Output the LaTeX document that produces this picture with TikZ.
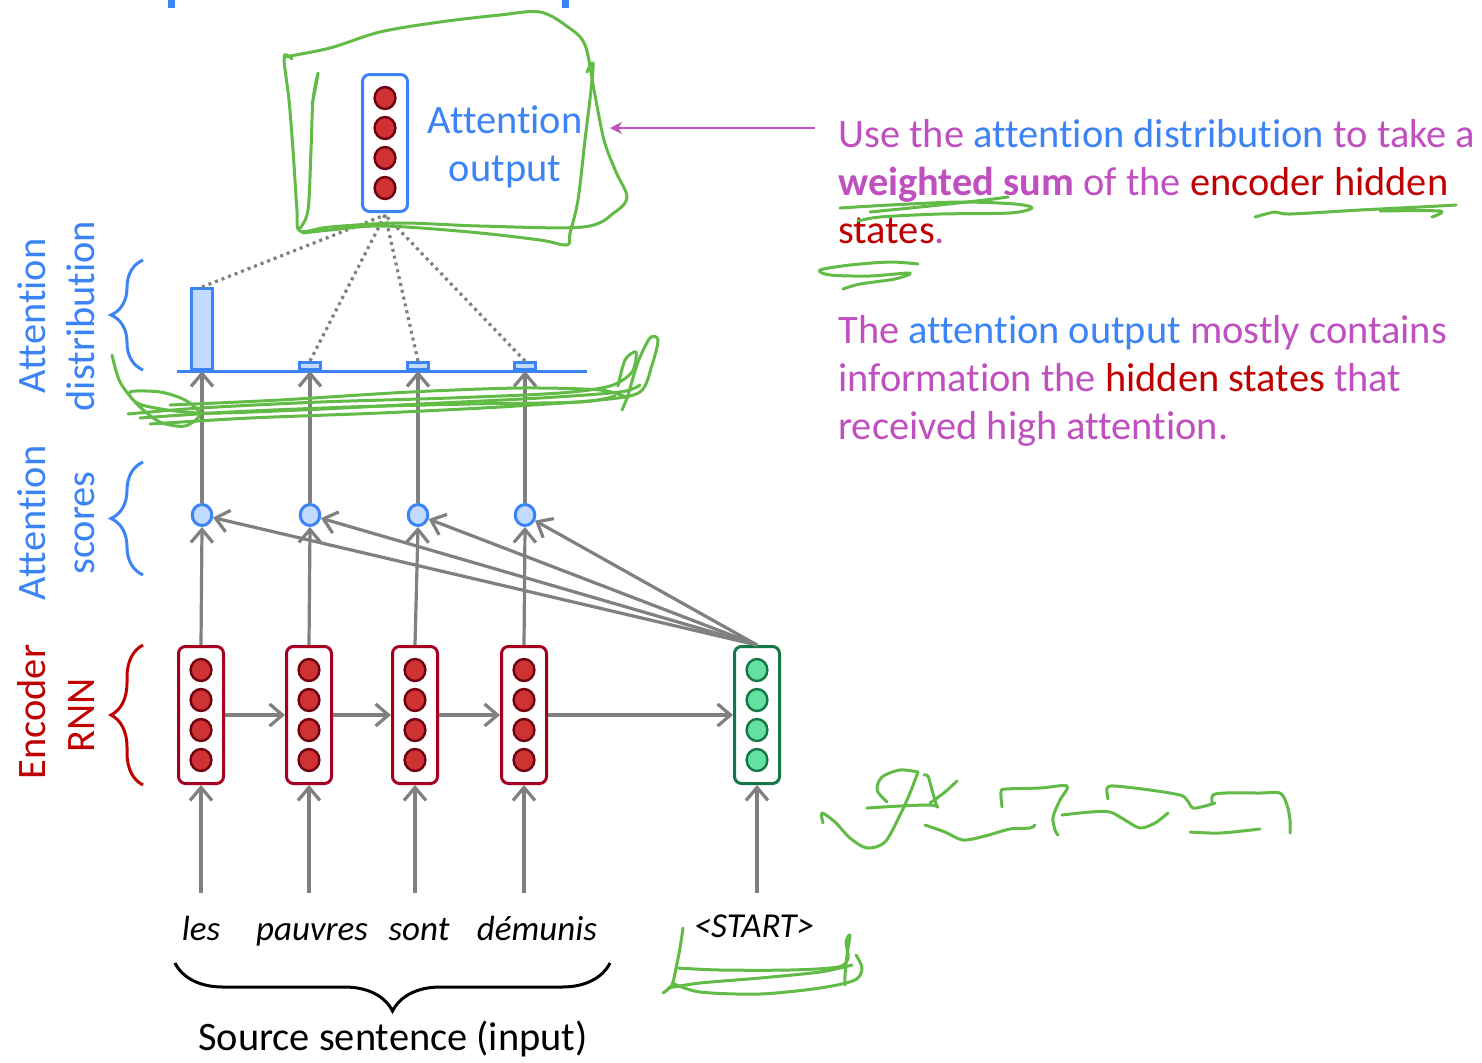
\documentclass[tikz,border=0pt]{standalone}
\usepackage{fontspec}
\setmainfont{Carlito}[Ligatures=NoCommon]
\usetikzlibrary{arrows.meta,decorations.pathreplacing,calc,shapes.geometric}

\definecolor{slpurple}{RGB}{192,80,192}
\definecolor{slblue}{RGB}{60,132,246}
\definecolor{slred}{RGB}{192,0,0}
\definecolor{inkgreen}{RGB}{98,187,70}
\definecolor{encedge}{RGB}{165,0,33}
\definecolor{encfill}{RGB}{207,50,50}
\definecolor{encdot}{RGB}{110,0,15}
\definecolor{decedge}{RGB}{20,120,70}
\definecolor{decfill}{RGB}{100,225,160}
\definecolor{paleblue}{RGB}{195,218,255}
\definecolor{wiregrey}{RGB}{128,128,128}

% four neurons stacked inside a vector box
\newcommand\cellstack[3]{%
  \foreach \dy in {-45,-15,15,45}{%
    \draw[draw=#2, fill=#3, line width=1.2pt] ($(#1)+(0,\dy)$) ellipse (5.2pt and 5.5pt);}}

\begin{document}
\begin{tikzpicture}[x=0.5pt,y=-0.5pt,
  txt/.style={font=\fontsize{20.2pt}{24.25pt}\selectfont, inner sep=0pt},
  word/.style={font=\fontsize{17.5pt}{21pt}\selectfont\itshape, inner sep=0pt, anchor=base},
  vecbox/.style={rectangle, rounded corners=3.5pt, line width=1.5pt, minimum width=22.5pt, minimum height=68.5pt, inner sep=0pt, fill=white},
  score/.style={ellipse, draw=slblue, fill=paleblue, line width=1.5pt, minimum width=9.8pt, minimum height=10.5pt, inner sep=0pt},
  bar/.style={rectangle, draw=slblue, fill=paleblue, line width=1.5pt, minimum width=10.5pt, inner sep=0pt, anchor=south},
  flow/.style={draw=wiregrey, line width=1.6pt, -{Straight Barb[length=6.5pt,width=11pt]}},
  weight/.style={draw=wiregrey, line width=1.6pt, dash pattern=on 1.5pt off 2pt},
  lbrace/.style={decorate, decoration={brace, amplitude=16pt}, line width=1.5pt},
  ink/.style={draw=inkgreen, line width=1.5pt, line cap=round, line join=round},
]
\fill[white] (0,0) rectangle (1482,1062);
\useasboundingbox (0,0) rectangle (1482,1062);

% ends of a bracket reaching in from above
\draw[slblue, line width=3.5pt] (171,0) -- (171,8);
\draw[slblue, line width=3.5pt] (565,0) -- (565,8);

% ---------- encoder RNN and decoder start state ----------
\node[vecbox, draw=encedge] (e1) at (201,715) {};
\node[vecbox, draw=encedge] (e2) at (309,715) {};
\node[vecbox, draw=encedge] (e3) at (415,715) {};
\node[vecbox, draw=encedge] (e4) at (524,715) {};
\node[vecbox, draw=decedge] (dec) at (757,715) {};
\foreach \n in {e1,e2,e3,e4}{\cellstack{\n}{encdot}{encfill}}
\cellstack{dec}{decedge}{decfill}

% ---------- attention scores ----------
\node[score] (s1) at (202,515) {};
\node[score] (s2) at (310,515) {};
\node[score] (s3) at (418,515) {};
\node[score] (s4) at (525,515) {};

% ---------- attention distribution ----------
\coordinate (axL) at (177,371);
\coordinate (axR) at (587,371);
\draw[slblue, line width=1.5pt] (axL) -- (axR);
\node[bar, minimum height=40.5pt] (b1) at (202,371) {};
\node[bar, minimum height=3.5pt] (b2) at (310,371) {};
\node[bar, minimum height=3.5pt] (b3) at (418,371) {};
\node[bar, minimum height=3.5pt] (b4) at (525,371) {};

% ---------- attention output ----------
\foreach \b in {b1,b2,b3,b4}{\draw[weight] (\b.north) -- (385,215);}
\node[vecbox, draw=slblue] (ao) at (385,143) {};
\cellstack{ao}{encdot}{encfill}
\node[txt, anchor=base, text=slblue] (aol1) at (505,133) {Attention};
\node[txt, anchor=base, text=slblue] (aol2) at (505,181) {output};

% ---------- inputs ----------
\node[word] (w1) at (201,940) {les};
\node[word] (w2) at (312,940) {pauvres};
\node[word] (w3) at (419,940) {sont};
\node[word] (w4) at (537,940) {démunis};
\node[word] (w5) at (754,937) {\textless START\textgreater};
\coordinate (in1) at (201,893);
\coordinate (in2) at (309,893);
\coordinate (in3) at (415,893);
\coordinate (in4) at (524,893);
\coordinate (in5) at (757,893);
\draw[flow] (in1) -- (e1.south);
\draw[flow] (in2) -- (e2.south);
\draw[flow] (in3) -- (e3.south);
\draw[flow] (in4) -- (e4.south);
\draw[flow] (in5) -- (dec.south);

% recurrence
\draw[flow] (e1.east) -- (e2.west);
\draw[flow] (e2.east) -- (e3.west);
\draw[flow] (e3.east) -- (e4.west);
\draw[flow] (e4.east) -- (dec.west);

% hidden states to scores
\draw[flow] (e1.north) -- (s1.south);
\draw[flow] (e2.north) -- (s2.south);
\draw[flow] (e3.north) -- (s3.south);
\draw[flow] (e4.north) -- (s4.south);
\draw[flow] (dec.north) -- (s1);
\draw[flow] (dec.north) -- (s2);
\draw[flow] (dec.north) -- (s3);
\draw[flow] (dec.north) -- (s4);

% scores to distribution
\draw[flow] (s1.north) -- (b1.south);
\draw[flow] (s2.north) -- (b2.south);
\draw[flow] (s3.north) -- (b3.south);
\draw[flow] (s4.north) -- (b4.south);

% ---------- source sentence brace ----------
\coordinate (srcR) at (610,963);
\coordinate (srcL) at (175,963);
\draw[decorate, decoration={brace, amplitude=24pt}, line width=1.5pt] (srcR) -- (srcL);
\node[txt, anchor=base] (src) at (393,1050) {Source sentence (input)};

% ---------- layer braces and labels ----------
\draw[lbrace, slblue] (143,370) -- (143,260);
\draw[lbrace, slblue] (143,575) -- (143,462);
\draw[lbrace, slred] (143,785) -- (143,645);
\node[txt, rotate=90, anchor=base, text=slblue] (ld1) at (45,316) {Attention};
\node[txt, rotate=90, anchor=base, text=slblue] (ld2) at (94,316) {distribution};
\node[txt, rotate=90, anchor=base, text=slblue] (ls1) at (45,523) {Attention};
\node[txt, rotate=90, anchor=base, text=slblue] (ls2) at (94,523) {scores};
\node[txt, rotate=90, anchor=base, text=slred] (le1) at (45,712) {Encoder};
\node[txt, rotate=90, anchor=base, text=slred] (le2) at (94,715) {RNN};

% ---------- explanation ----------
\node[txt, anchor=base west] (r1) at (838,147) {{\color{slpurple}Use the} {\color{slblue}attention distribution} {\color{slpurple}to take a}};
\node[txt, anchor=base west] (r2) at (838,195) {{\color{slpurple}\bfseries weighted sum} {\color{slpurple}of the} {\color{slred}encoder hidden}};
\node[txt, anchor=base west] (r3) at (838,243) {{\color{slred}states}{\color{slpurple}.}};
\node[txt, anchor=base west] (r4) at (838,343) {{\color{slpurple}The} {\color{slblue}attention output} {\color{slpurple}mostly contains}};
\node[txt, anchor=base west] (r5) at (838,391) {{\color{slpurple}information the} {\color{slred}hidden states} {\color{slpurple}that}};
\node[txt, anchor=base west] (r6) at (838,439) {{\color{slpurple}received high attention.}};
\coordinate (ptrtail) at (815,128);
\coordinate (ptrhead) at (610,128);
\draw[slpurple, line width=1.2pt, -{Stealth[length=6pt,width=6pt]}] (ptrtail) -- (ptrhead);

% ---------- hand-drawn pen annotations ----------
% loop round the attention output
\draw[ink] plot[smooth, tension=0.55] coordinates {(284,57) (330,48) (380,32) (440,22) (500,15) (540,12) (568,27) (585,45) (594,90) (604,140) (616,172) (627,197) (615,212) (583,227) (480,226) (400,223) (330,227) (300,231) (297,210) (293,150) (289,100) (284,57) (292,59)};
\draw[ink] plot[smooth, tension=0.55] coordinates {(587,72) (593,63) (591,90) (585,140) (578,200) (570,233) (567,245) (540,240) (470,232) (383,226) (330,230) (303,233)};
\draw[ink] plot[smooth, tension=0.55] coordinates {(300,228) (308,210) (311,150) (313,100) (318,73) (316,85) (312,105)};
% scribble under the distribution
\draw[ink] plot[smooth, tension=0.5] coordinates {(112,355) (120,382) (138,405) (160,422) (185,426) (200,414) (185,400) (160,392) (130,392) (142,405) (200,413) (300,410) (420,404) (540,398) (620,392) (640,385)};
\draw[ink] plot[smooth, tension=0.5] coordinates {(150,424) (250,418) (380,413) (500,407) (600,400) (640,392) (652,365) (658,340) (650,338) (638,362) (628,395) (622,410)};
\draw[ink] plot[smooth, tension=0.5] coordinates {(128,414) (200,408) (320,402) (450,398) (560,393) (610,386) (632,372) (636,352) (625,360) (618,386)};
\draw[ink] plot[smooth, tension=0.5] coordinates {(170,405) (280,400) (410,392) (520,388) (600,390) (628,398)};
\draw[ink] plot[smooth, tension=0.5] coordinates {(140,418) (230,412) (350,407) (470,404) (580,402) (615,396)};
% underlines in the explanation
\draw[ink] plot[smooth, tension=0.5] coordinates {(840,208) (890,205) (960,202) (1015,204) (1032,208) (1010,213) (940,214) (880,217) (858,221)};
\draw[ink] plot[smooth, tension=0.5] coordinates {(870,212) (930,206) (985,200) (1008,197)};
\draw[ink] plot[smooth, tension=0.5] coordinates {(1255,217) (1275,212) (1290,214) (1360,210) (1420,207) (1456,205)};
\draw[ink] plot[smooth, tension=0.5] coordinates {(1380,211) (1440,211) (1432,217)};
\draw[ink] plot[smooth, tension=0.5] coordinates {(918,264) (890,262) (850,265) (820,270) (830,275) (870,276) (910,273) (895,279) (860,284) (843,289)};
% around the start token
\draw[ink] plot[smooth, tension=0.5] coordinates {(683,928) (680,948) (676,968) (672,985) (663,993)};
\draw[ink] plot[smooth, tension=0.5] coordinates {(678,968) (720,970) (790,970) (838,967) (848,958) (846,942) (850,935) (847,955) (845,975) (845,985)};
\draw[ink] plot[smooth, tension=0.5] coordinates {(672,983) (700,992) (760,994) (820,988) (855,980) (862,968) (856,955)};
\draw[ink] plot[smooth, tension=0.5] coordinates {(668,988) (700,983) (760,978) (820,972) (852,965)};
% scribbled note on the right
\draw[ink] plot[smooth, tension=0.5] coordinates {(823,823) (822,813) (835,822) (850,838) (867,848) (885,842) (900,815) (910,793) (918,772)};
\draw[ink] plot[smooth, tension=0.5] coordinates {(918,772) (900,770) (882,777) (877,790) (887,802)};
\draw[ink] plot[smooth, tension=0.5] coordinates {(867,808) (900,806) (930,805) (938,807)};
\draw[ink] plot[smooth, tension=0.5] coordinates {(924,775) (928,776) (932,790) (937,807)};
\draw[ink] plot[smooth, tension=0.5] coordinates {(957,781) (945,792) (930,803)};
\draw[ink] plot[smooth, tension=0.5] coordinates {(925,825) (945,832) (963,840) (985,836) (1010,829) (1030,828) (1035,825)};
\draw[ink] plot[smooth, tension=0.5] coordinates {(1002,807) (1001,792) (1006,789) (1040,788) (1067,786) (1060,800) (1053,817) (1055,830) (1058,835)};
\draw[ink] plot[smooth, tension=0.5] coordinates {(1062,815) (1090,812) (1110,812) (1125,820) (1140,828) (1155,823) (1168,813)};
\draw[ink] plot[smooth, tension=0.5] coordinates {(1108,799) (1107,788) (1115,786) (1150,790) (1180,795) (1187,800) (1193,808) (1205,806) (1215,803)};
\draw[ink] plot[smooth, tension=0.5] coordinates {(1212,802) (1213,795) (1225,793) (1260,793) (1280,793) (1287,805) (1290,820) (1290,833)};
\draw[ink] plot[smooth, tension=0.5] coordinates {(1190,832) (1220,833) (1260,829)};
\end{tikzpicture}
\end{document}
